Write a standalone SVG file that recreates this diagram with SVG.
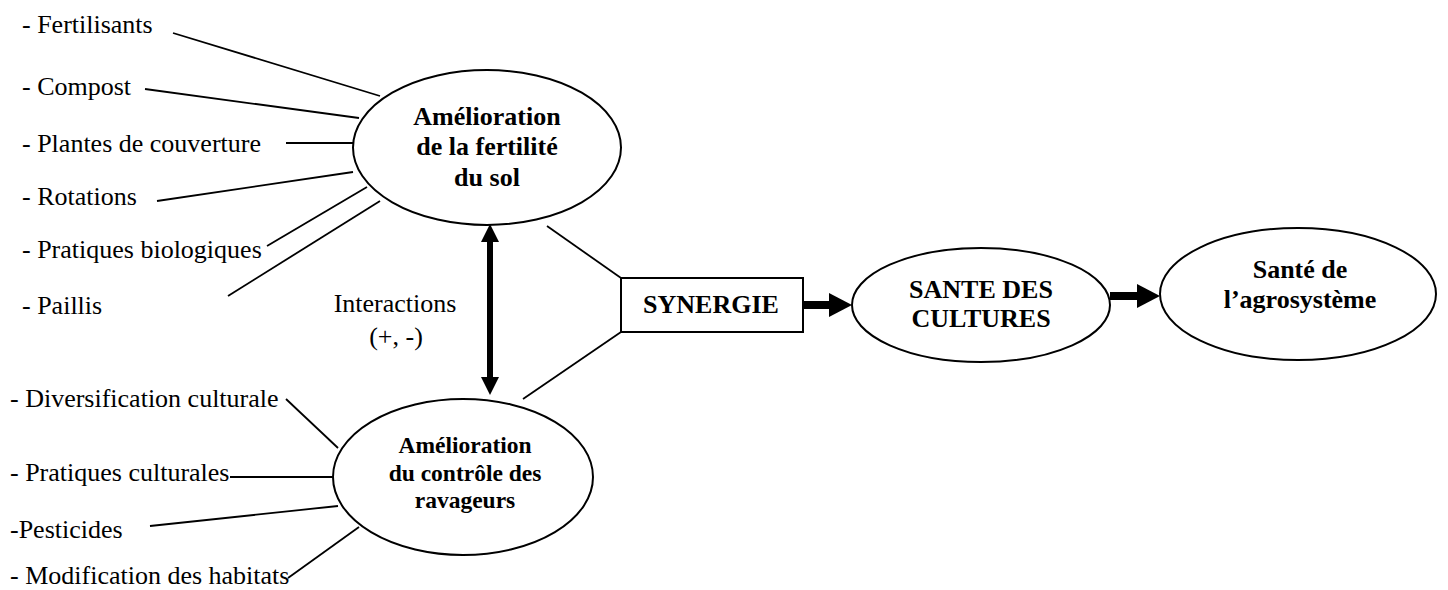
<svg xmlns="http://www.w3.org/2000/svg" width="1448" height="590" viewBox="0 0 1448 590">
<style>
  .lbl { font-family: "Liberation Serif", "Times New Roman", serif; font-size: 26px; fill: #000; }
  .bold { font-family: "Liberation Serif", "Times New Roman", serif; font-size: 26px; font-weight: bold; fill: #000; text-anchor: middle; }
  .small { font-size: 23.5px; }
  .ell { fill: #fff; stroke: #000; stroke-width: 2; }
  .thin { stroke: #000; stroke-width: 1.8; fill: none; }
  .thick { stroke: #000; stroke-width: 8; fill: none; }
  .dbl { stroke: #000; stroke-width: 6; fill: none; }
</style>
<defs>
  <marker id="headH" markerUnits="userSpaceOnUse" markerWidth="23" markerHeight="24" refX="3" refY="12" orient="auto">
    <path d="M0,0 L23,12 L0,24 z" fill="#000"/>
  </marker>
  <marker id="headV" markerUnits="userSpaceOnUse" markerWidth="18" markerHeight="18" refX="3" refY="9" orient="auto-start-reverse">
    <path d="M0,0 L18,9 L0,18 z" fill="#000"/>
  </marker>
</defs>
<rect width="1448" height="590" fill="#fff"/>

<g id="connectors">
  <line class="thin" x1="173" y1="33" x2="380" y2="96"/>
  <line class="thin" x1="145" y1="89" x2="359" y2="118"/>
  <line class="thin" x1="286" y1="143" x2="353" y2="143"/>
  <line class="thin" x1="157" y1="201" x2="353" y2="172"/>
  <line class="thin" x1="267" y1="246" x2="367" y2="187"/>
  <line class="thin" x1="228" y1="296" x2="380" y2="201"/>
  <line class="thin" x1="286" y1="399" x2="338" y2="448"/>
  <line class="thin" x1="230" y1="477" x2="333" y2="477"/>
  <line class="thin" x1="150" y1="526" x2="338" y2="506"/>
  <line class="thin" x1="288" y1="578" x2="359" y2="527"/>
  <line class="thin" x1="547" y1="226" x2="621" y2="278"/>
  <line class="thin" x1="523" y1="399" x2="621" y2="332"/>
  <line class="dbl" x1="490" y1="239" x2="490" y2="380" marker-start="url(#headV)" marker-end="url(#headV)"/>
  <line class="thick" x1="803" y1="305" x2="832" y2="305" marker-end="url(#headH)"/>
  <line class="thick" x1="1110" y1="296" x2="1140" y2="296" marker-end="url(#headH)"/>
</g>

<g id="labels-fertility">
  <text class="lbl" x="22" y="33">- Fertilisants</text>
  <text class="lbl" x="22" y="95">- Compost</text>
  <text class="lbl" x="22" y="152">- Plantes de couverture</text>
  <text class="lbl" x="22" y="205">- Rotations</text>
  <text class="lbl" x="22" y="258">- Pratiques biologiques</text>
  <text class="lbl" x="22" y="314">- Paillis</text>
</g>

<g id="labels-pests">
  <text class="lbl" x="10" y="407">- Diversification culturale</text>
  <text class="lbl" x="10" y="481">- Pratiques culturales</text>
  <text class="lbl" x="10" y="538">-Pesticides</text>
  <text class="lbl" x="10" y="584">- Modification des habitats</text>
</g>

<g id="interactions">
  <text class="lbl" x="395" y="312" text-anchor="middle">Interactions</text>
  <text class="lbl" x="396" y="345" text-anchor="middle">(+, -)</text>
</g>

<g id="node-fertilite">
  <ellipse class="ell" cx="487" cy="147.5" rx="134" ry="77.5"/>
  <text class="bold" x="487" y="125">Amélioration</text>
  <text class="bold" x="487" y="155">de la fertilité</text>
  <text class="bold" x="487" y="186">du sol</text>
</g>

<g id="node-ravageurs">
  <ellipse class="ell" cx="463" cy="477" rx="130" ry="78"/>
  <text class="bold small" x="465" y="453">Amélioration</text>
  <text class="bold small" x="465" y="481">du contrôle des</text>
  <text class="bold small" x="465" y="508">ravageurs</text>
</g>

<g id="node-synergie">
  <rect x="621" y="278" width="182" height="54" fill="#fff" stroke="#000" stroke-width="2"/>
  <text class="bold" x="711" y="313">SYNERGIE</text>
</g>

<g id="node-sante-cultures">
  <ellipse class="ell" cx="981" cy="305" rx="129" ry="57"/>
  <text class="bold" x="981" y="298">SANTE DES</text>
  <text class="bold" x="981" y="327">CULTURES</text>
</g>

<g id="node-sante-agro">
  <ellipse class="ell" cx="1298" cy="294" rx="138" ry="66"/>
  <text class="bold" x="1300" y="278">Santé de</text>
  <text class="bold" x="1300" y="308">l’agrosystème</text>
</g>
</svg>
